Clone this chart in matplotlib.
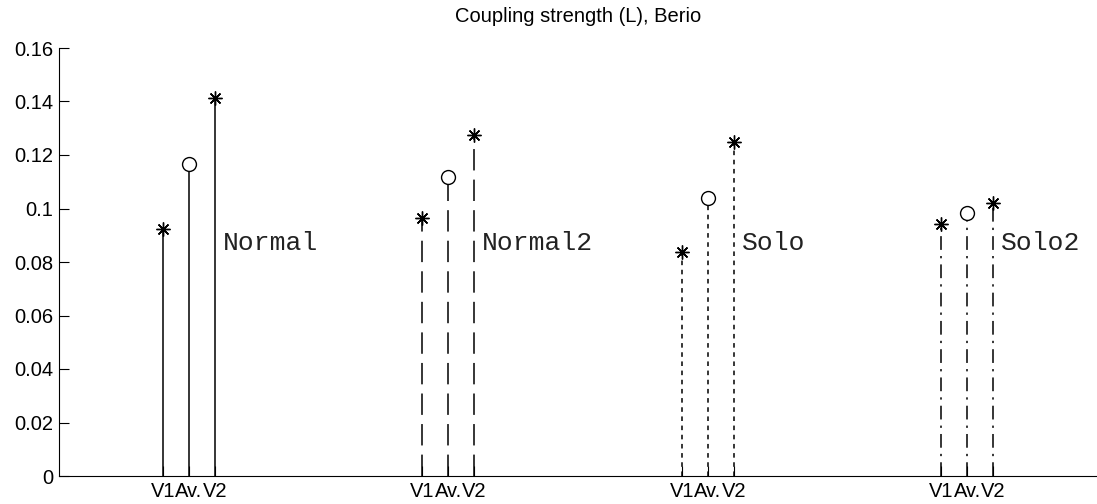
import numpy as np
import matplotlib
matplotlib.use("Agg")
import matplotlib.pyplot as plt

# stem values (V1, Av., V2 per condition)
groups = ["Normal", "Normal2", "Solo", "Solo2"]
v1_vals = [0.0923, 0.0964, 0.0837, 0.0942]
av_vals = [0.1166, 0.1119, 0.1039, 0.0984]
v2_vals = [0.1414, 0.1275, 0.1250, 0.1022]
tick_names = ["V1", "Av.", "V2"]
label_y = 0.0871

# matlab-ish line styles: solid, dashed, dotted, dash-dot
STYLES = ["-", (0, (14, 6)), (0, (3, 3)), (0, (9, 4, 1.5, 4))]
ASTERISK = (8, 2, 0)

plt.rcParams["font.family"] = ["Liberation Sans", "DejaVu Sans"]

fig = plt.figure(figsize=(10.97, 5.04), dpi=100)
ax = fig.add_axes([59 / 1097, 1 - 476 / 504, 1 - 59 / 1097, 428 / 504])

xticks, xlabels = [], []
for i, name in enumerate(groups):
    base = 10 * i + 1
    xs = np.array([base, base + 1, base + 2])
    vals = [v1_vals[i], av_vals[i], v2_vals[i]]
    ax.vlines(xs, 0, vals, colors="black", linestyles=[STYLES[i]], lw=1.1)
    ax.plot(xs[[0, 2]], [vals[0], vals[2]], ls="none", marker=ASTERISK,
            ms=10, mec="black", mew=1.0, zorder=3)
    # open circle sits over the stem top, hiding the line inside it
    ax.plot(xs[1], vals[1], ls="none", marker="o", ms=10, mfc="white",
            mec="black", mew=1.0, zorder=3)
    ax.text(base + 2.3, label_y, name, family=["Liberation Mono", "DejaVu Sans Mono"],
            fontsize=19, va="center", ha="left", color="#222222")
    xticks.extend(xs)
    xlabels.extend(tick_names)

ax.set_xlim(-3, 37)
ax.set_ylim(0, 0.16)
ax.set_yticks(np.arange(0, 0.161, 0.02))
ax.set_yticklabels(["0", "0.02", "0.04", "0.06", "0.08", "0.1", "0.12", "0.14", "0.16"])
ax.set_xticks(xticks)
ax.set_xticklabels(xlabels)
ax.tick_params(direction="in", length=7, width=0.8, labelsize=14.5, pad=4)
ax.spines["top"].set_visible(False)
ax.spines["right"].set_visible(False)
for s in ("left", "bottom"):
    ax.spines[s].set_linewidth(0.8)
ax.set_title("Coupling strength (L), Berio", fontsize=14.5, pad=19)

fig.savefig("out.png", dpi=100)
